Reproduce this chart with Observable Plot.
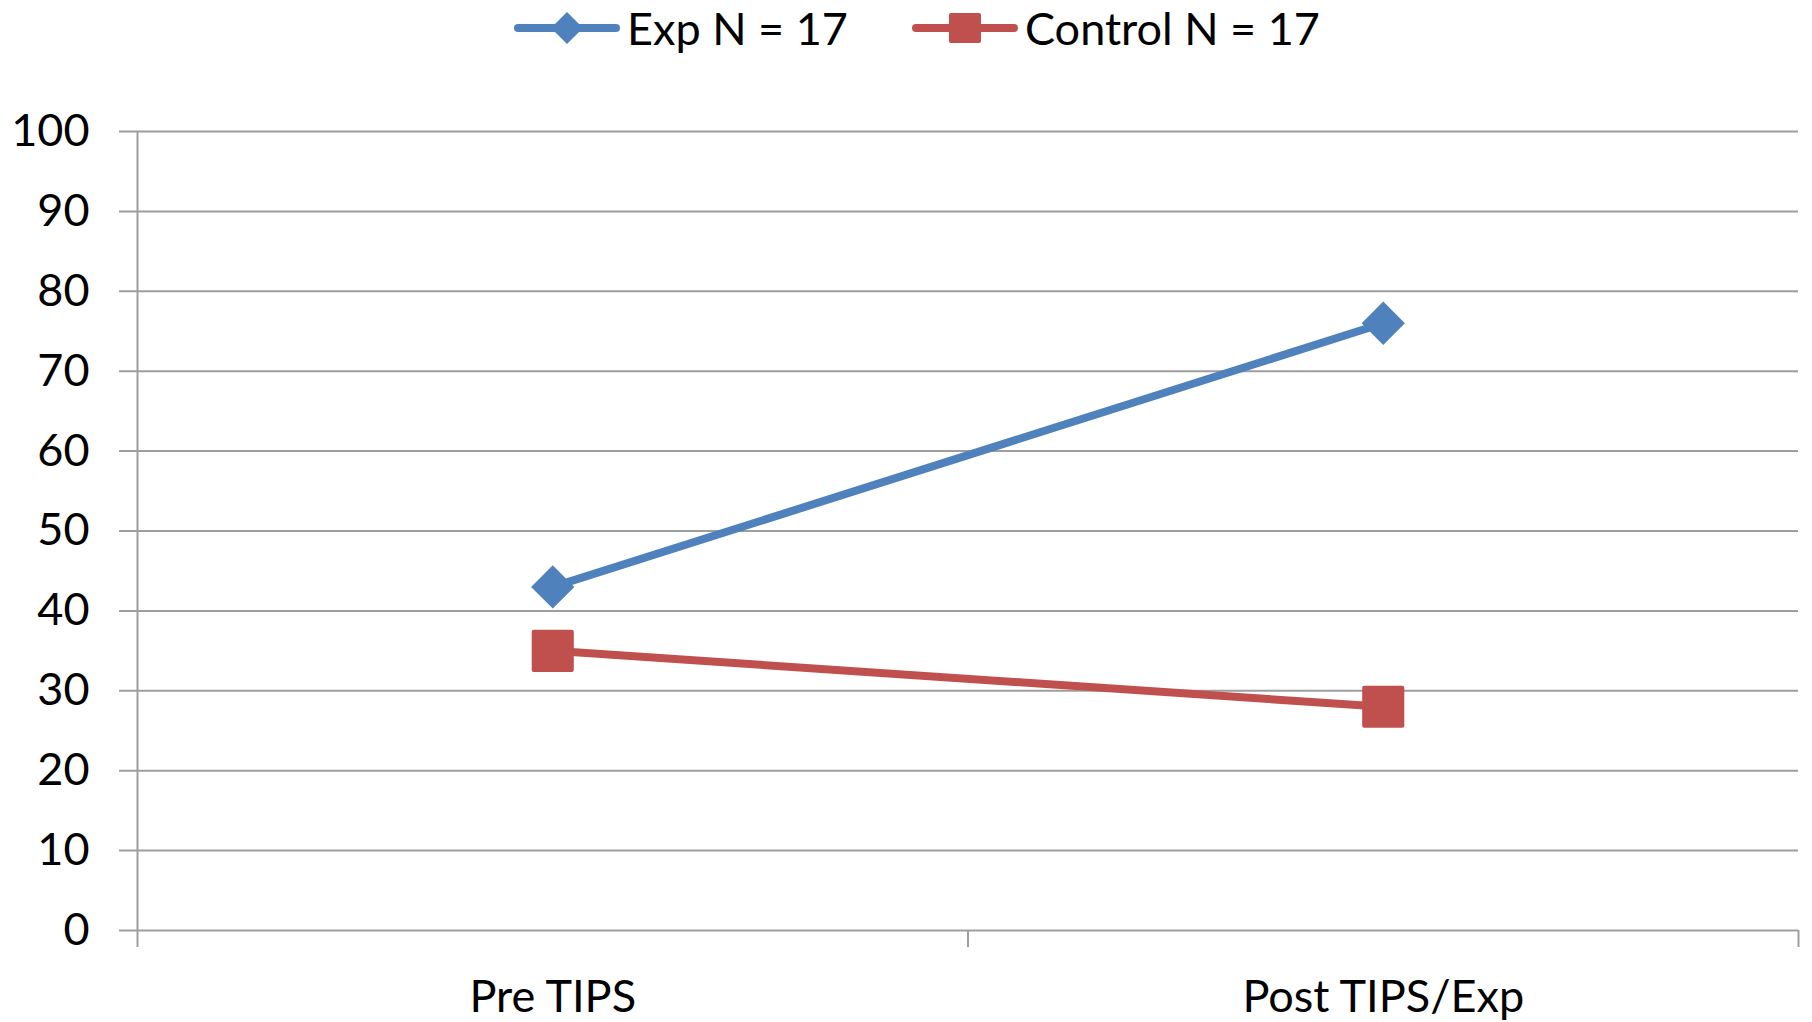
<!DOCTYPE html>
<html>
<head>
<meta charset="utf-8">
<script src="https://cdn.jsdelivr.net/npm/d3@7"></script>
<script src="https://cdn.jsdelivr.net/npm/@observablehq/plot@0.6"></script>
<style>
  html, body { margin: 0; padding: 0; background: #fff; }
  body { width: 1812px; height: 1022px; overflow: hidden; font-family: Lato, "Open Sans", sans-serif; }
  #legend { height: 56px; position: relative; font-size: 45px; color: #000; }
  .item { position: absolute; top: 0; height: 56px; display: flex; align-items: center; }
  .item svg { margin-right: 7px; }
</style>
</head>
<body>
<div id="legend"></div>
<div id="chart"></div>
<script>
const categories = ["Pre TIPS", "Post TIPS/Exp"];
const seriesNames = ["Exp N = 17", "Control N = 17"];
const expValues = [43, 76];
const controlValues = [35, 28];
const yTicks = [0, 10, 20, 30, 40, 50, 60, 70, 80, 90, 100];
const colors = ["#4F81BD", "#C0504D"];
const gridColor = "#9e9e9e";

const data = [];
categories.forEach((c, i) => {
  data.push({series: seriesNames[0], cat: c, xi: i + 0.5, value: expValues[i]});
  data.push({series: seriesNames[1], cat: c, xi: i + 0.5, value: controlValues[i]});
});

// Legend
const legend = document.getElementById("legend");
const legendLeft = [514, 912];
seriesNames.forEach((name, k) => {
  const item = document.createElement("div");
  item.className = "item";
  item.style.left = legendLeft[k] + "px";
  const marker = k === 0
    ? `<path d="M53,9 L69,25 L53,41 L37,25 Z" fill="${colors[k]}"/>`
    : `<rect x="37" y="10" width="32" height="30" rx="2" fill="${colors[k]}"/>`;
  item.innerHTML = `<svg width="106" height="50" viewBox="0 0 106 50"><line x1="4" x2="102" y1="25" y2="25" stroke="${colors[k]}" stroke-width="8" stroke-linecap="round"/>${marker}</svg><span>${name}</span>`;
  legend.appendChild(item);
});

const chart = Plot.plot({
  width: 1812,
  height: 966,
  marginLeft: 137,
  marginRight: 14,
  marginTop: 75,
  marginBottom: 92,
  style: {fontFamily: "Lato, 'Open Sans', sans-serif", fontSize: "45px", color: "#000", background: "#fff"},
  x: {domain: [0, categories.length]},
  y: {domain: [0, 100]},
  color: {domain: seriesNames, range: colors},
  marks: [
    Plot.ruleY(yTicks, {stroke: gridColor, strokeWidth: 2, insetLeft: -18}),
    Plot.ruleX([0], {y1: 0, y2: 100, stroke: gridColor, strokeWidth: 2}),
    Plot.axisX({ticks: d3.range(0, categories.length + 1), tickSize: 17, tickFormat: () => "", stroke: gridColor, strokeWidth: 2, label: null}),
    Plot.axisX({ticks: categories.map((c, i) => i + 0.5), tickSize: 0, tickPadding: 50, tickFormat: d => categories[Math.floor(d)], fontSize: 45, fill: "#000", label: null}),
    Plot.axisY({ticks: yTicks, tickSize: 0, tickPadding: 48, fontSize: 45, fill: "#000", label: null}),
    Plot.line(data, {x: "xi", y: "value", z: "series", stroke: "series", strokeWidth: 8}),
    Plot.dot(data.filter(d => d.series === seriesNames[0]), {x: "xi", y: "value", symbol: () => "diamond2", fill: "series", r: 19.5}),
    Plot.dot(data.filter(d => d.series === seriesNames[1]), {x: "xi", y: "value", symbol: () => "square", fill: "series", stroke: "series", strokeWidth: 4, strokeLinejoin: "round", r: 21.5})
  ]
});
document.getElementById("chart").appendChild(chart);
</script>
</body>
</html>
